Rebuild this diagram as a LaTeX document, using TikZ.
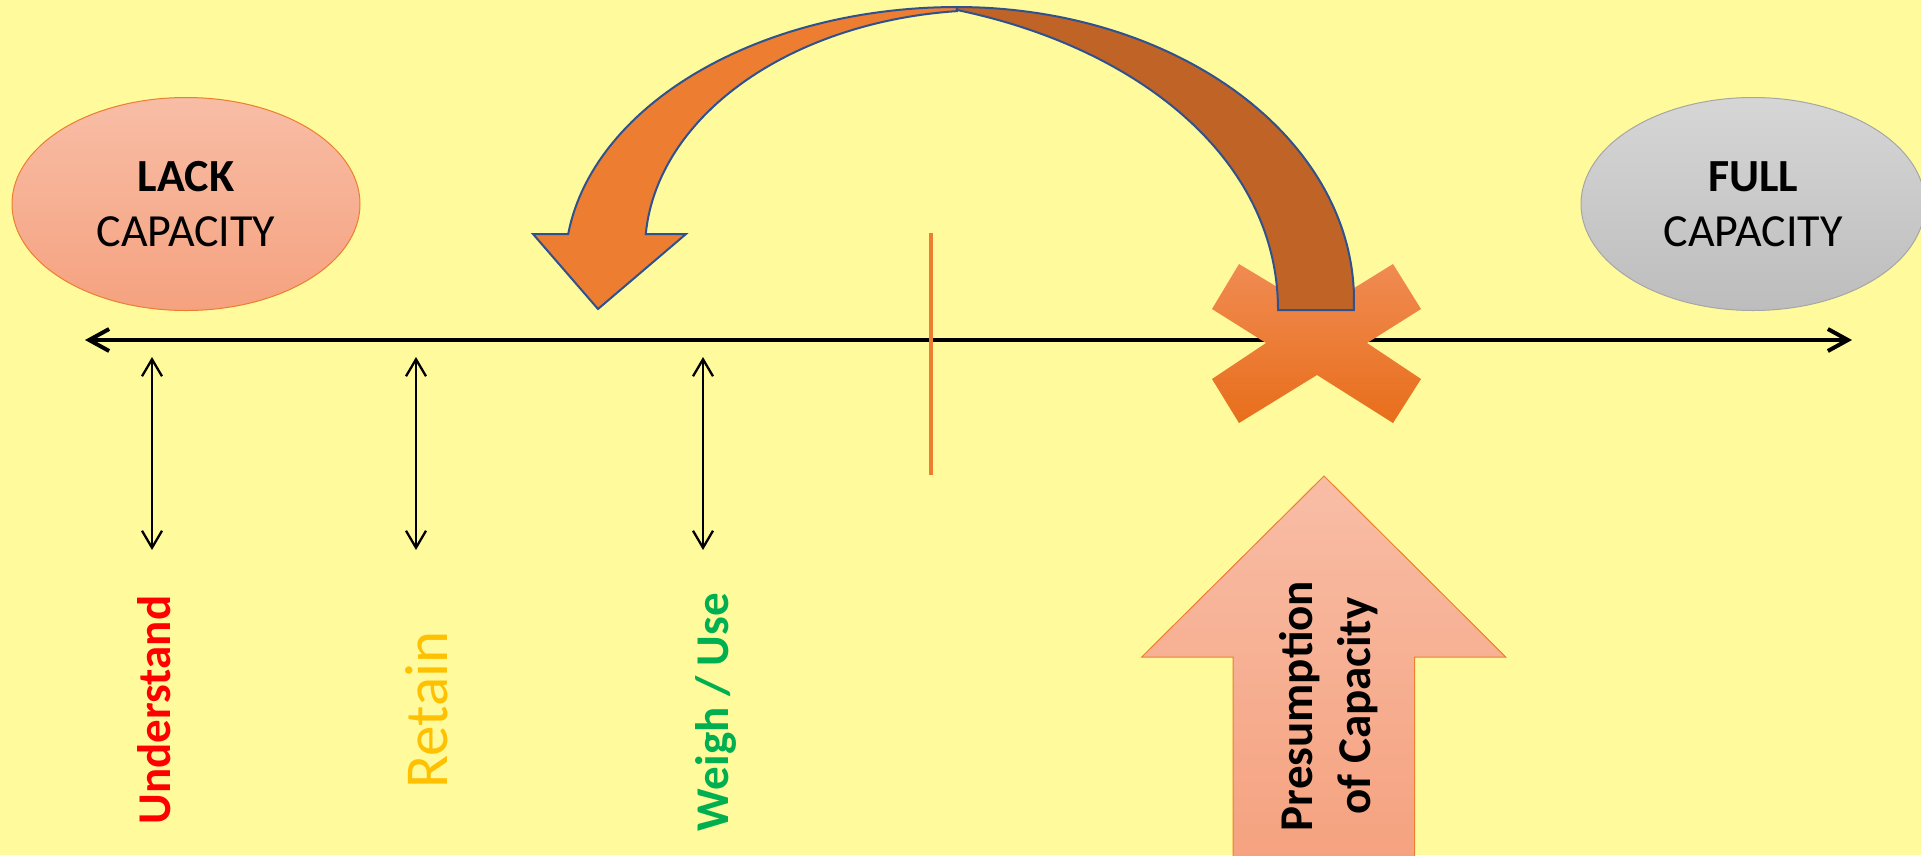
\documentclass[tikz,border=0pt]{standalone}
\usepackage{fontspec}
\setmainfont{Carlito}
\usetikzlibrary{arrows.meta,shapes.geometric}
\definecolor{bgyellow}{HTML}{FFFA9B}
\definecolor{lackT}{HTML}{F8BDA6}
\definecolor{lackB}{HTML}{F5A27F}
\definecolor{lackE}{HTML}{ED7D31}
\definecolor{fullT}{HTML}{D6D6D6}
\definecolor{fullB}{HTML}{BDBDBD}
\definecolor{fullE}{HTML}{A6A6A6}
\definecolor{arcL}{HTML}{ED7D31}
\definecolor{arcR}{HTML}{BF6327}
\definecolor{arcE}{HTML}{2F528F}
\definecolor{crossT}{HTML}{F08B52}
\definecolor{crossM}{HTML}{F58030}
\definecolor{crossB}{HTML}{E86E1B}
\definecolor{tickC}{HTML}{ED7D31}
\definecolor{undC}{HTML}{FF0000}
\definecolor{retC}{HTML}{FFC000}
\definecolor{weiC}{HTML}{00B050}
\begin{document}
\begin{tikzpicture}[x=1pt,y=-1pt,
  capnode/.style={ellipse, inner sep=0pt, minimum width=#1, minimum height=213pt,
    align=center, font=\fontsize{46}{55.3}\selectfont, line width=1pt},
  axisline/.style={line width=4pt,
    {Straight Barb[length=20pt,width=22pt]}-{Straight Barb[length=20pt,width=22pt]}},
  dbl/.style={line width=2.3pt,
    {Straight Barb[length=17pt,width=20pt]}-{Straight Barb[length=17pt,width=20pt]}},
  arcpart/.style={draw=arcE, line width=2pt, line join=miter},
  vlabel/.style={rotate=90, anchor=base, inner sep=0pt},
  boldlbl/.style={font=\bfseries\fontsize{47}{56}\selectfont},
]
\useasboundingbox (0,0) rectangle (1921,855);
\fill[bgyellow] (0,0) rectangle (1921,855);

% capacity ellipses
\node[capnode=348pt, draw=lackE, top color=lackT, bottom color=lackB] (lack) at (186,204)
  {{\bfseries LACK}\\CAPACITY};
\node[capnode=344pt, draw=fullE, top color=fullT, bottom color=fullB] (full) at (1753,204)
  {{\bfseries FULL}\\CAPACITY};

% axis
\coordinate (axL) at (85,340);
\coordinate (axR) at (1852,340);
\draw[axisline] (axL) -- (axR);

% orange tick
\coordinate (tickT) at (931,233);
\coordinate (tickB) at (931,475);
\draw[tickC, line width=3.5pt] (tickT) -- (tickB);

% vertical double arrows
\coordinate (u1) at (152,357); \coordinate (d1) at (152,550);
\coordinate (u2) at (416,357); \coordinate (d2) at (416,550);
\coordinate (u3) at (703,357); \coordinate (d3) at (703,550);
\draw[dbl] (u1) -- (d1);
\draw[dbl] (u2) -- (d2);
\draw[dbl] (u3) -- (d3);

% cross
\shade[top color=crossT, middle color=crossM, bottom color=crossB]
  (1239,264) -- (1317,311) -- (1393,264) -- (1421,309) -- (1367,343) -- (1421,379)
  -- (1393,423) -- (1317,375) -- (1239,423) -- (1212,379) -- (1266,343) -- (1212,309) -- cycle;

% curved arrow, left half with head
\draw[arcpart, fill=arcL]
  (533,234) -- (568,234)
  -- plot[domain=0:82.7, samples=60, variable=\t] ({957+392*cos(172.7-\t)},{267-260*sin(172.7-\t)})
  -- plot[domain=95.5:176.2, samples=60, variable=\t] ({990+345*cos(\t)},{250-240*sin(\t)})
  -- (686,234) -- (598,309) -- cycle;

% curved arrow, right half (tail)
\draw[arcpart, fill=arcR]
  plot[domain=0:92, samples=70, variable=\t] ({957+397*cos(90-\t)},{300-293*sin(90-\t)})
  -- (1278,310)
  .. controls (1278,160) and (1140,48) .. (957,10)
  -- cycle;

% presumption arrow
\draw[draw=lackE, line width=1pt, top color=lackT, bottom color=lackB]
  (1324,476) -- (1505.7,657) -- (1414.7,657) -- (1414.7,860) -- (1233,860)
  -- (1233,657) -- (1141.7,657) -- cycle;
\node[rotate=90, inner sep=0pt, align=center, font=\bfseries\fontsize{47}{58}\selectfont]
  (pres) at (1329,706) {Presumption\\of Capacity};

% labels
\node[vlabel, boldlbl, text=undC] (und) at (170,710) {Understand};
\node[vlabel, text=retC, font=\fontsize{61}{70}\selectfont] (ret) at (447,710) {Retain};
\node[vlabel, boldlbl, text=weiC] (wei) at (728,712) {Weigh / Use};
\end{tikzpicture}
\end{document}
